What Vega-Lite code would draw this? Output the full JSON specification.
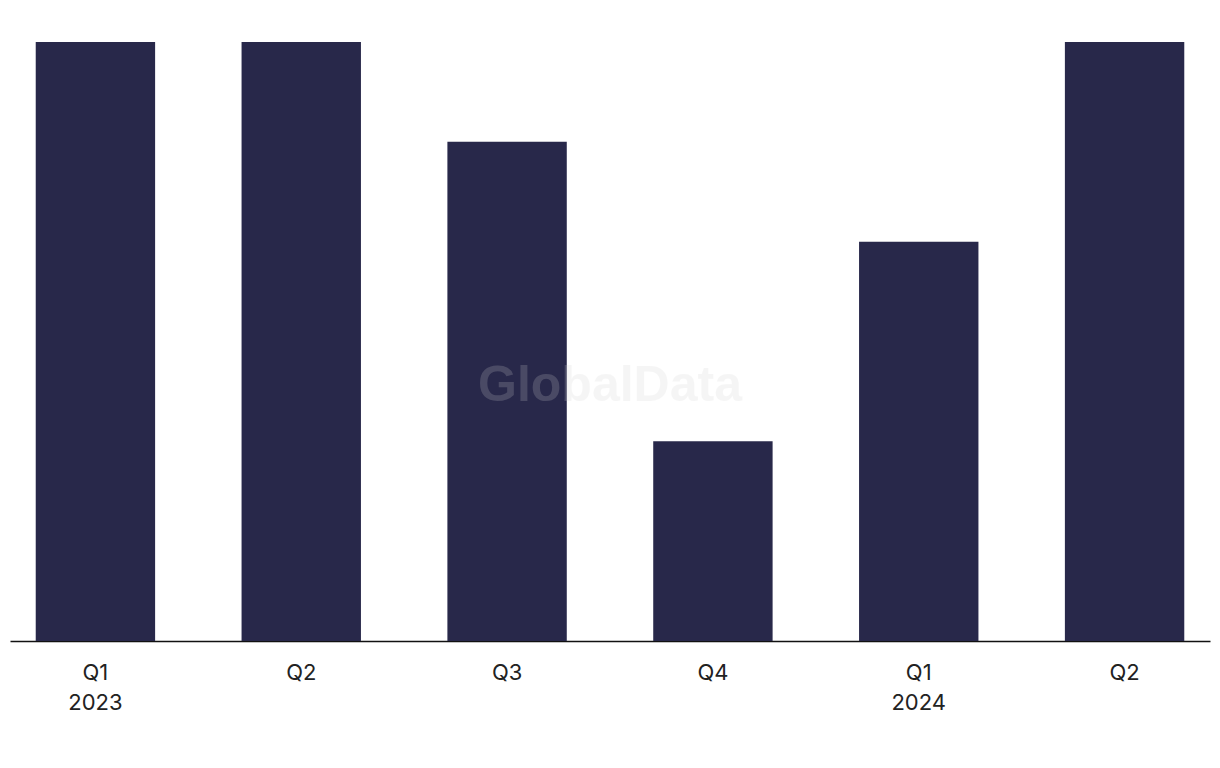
{
  "$schema": "https://vega.github.io/schema/vega-lite/v6.json",
  "width": 1200,
  "height": 599,
  "autosize": "none",
  "padding": {"left": 10, "top": 42, "right": 10, "bottom": 127},
  "background": "white",
  "config": {"view": {"stroke": null}},
  "data": {"values": [
    {"quarter": "Q1|2023", "deals": 6},
    {"quarter": "Q2", "deals": 6},
    {"quarter": "Q3", "deals": 5},
    {"quarter": "Q4", "deals": 2},
    {"quarter": "Q1|2024", "deals": 4},
    {"quarter": "Q2 ", "deals": 6}
  ]},
  "layer": [
    {
      "mark": {"type": "bar", "color": "#28284a"},
      "encoding": {
        "x": {
          "field": "quarter", "type": "nominal", "sort": null,
          "scale": {"paddingInner": 0.42, "paddingOuter": 0.125},
          "axis": {
            "title": null, "labelAngle": 0, "ticks": false,
            "domainColor": "#111111", "domainWidth": 1.5,
            "labelFont": "Inter", "labelFontSize": 22, "labelColor": "#222222",
            "labelPadding": 21, "labelLineHeight": 30,
            "labelExpr": "split(datum.value, '|')"
          }
        },
        "y": {
          "field": "deals", "type": "quantitative",
          "scale": {"domain": [0, 6]},
          "axis": null
        }
      }
    },
    {
      "data": {"values": [{"wm": "GlobalData"}]},
      "mark": {"type": "text", "font": "Liberation Sans", "fontWeight": "bold", "fontSize": 50, "color": "#d2d2d2", "opacity": 0.2, "align": "center", "baseline": "middle", "dy": 44},
      "encoding": {"text": {"field": "wm"}}
    }
  ]
}
